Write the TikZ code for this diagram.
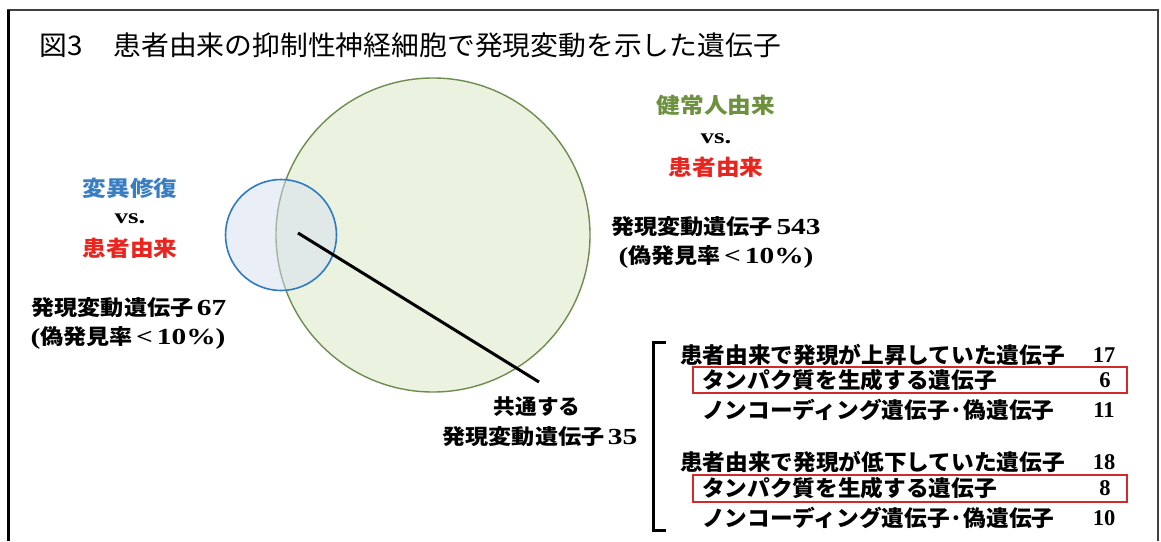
\documentclass[tikz,border=0pt]{standalone}
\usepackage{fontspec}
\newfontfamily\jp[FakeStretch=1.1]{Noto Sans CJK JP}
\newfontfamily\jr[FakeStretch=1.03]{Noto Sans CJK JP}
\newfontfamily\jt[FakeStretch=1.03]{Noto Sans CJK JP}
\newfontfamily\tm{Liberation Serif}
\newfontfamily\tmw[FakeStretch=1.28]{Liberation Serif}
\definecolor{gline}{HTML}{6E8C50}
\definecolor{gfill}{HTML}{EBF3E0}
\definecolor{bline}{HTML}{2F7BC0}
\definecolor{bfill}{HTML}{D6DEF0}
\definecolor{btext}{HTML}{3A7EC2}
\definecolor{rtext}{HTML}{E8261F}
\definecolor{gtext}{HTML}{6E9140}
\definecolor{rbox}{HTML}{D22A2A}
\tikzset{
  lab/.style={inner sep=0pt, font=\jp\bfseries\fontsize{21}{25}\selectfont, text=black},
  big/.style={inner sep=0pt, font=\jp\bfseries\fontsize{21.5}{26}\selectfont},
  vs/.style={inner sep=0pt, font=\tmw\bfseries\fontsize{21}{24}\selectfont},
  row/.style={inner sep=0pt, anchor=west, font=\jr\bfseries\fontsize{22}{26}\selectfont},
  num/.style={inner sep=0pt, font=\tm\bfseries\fontsize{22.5}{26}\selectfont},
  hbox/.style={draw=rbox, line width=1.6pt},
}
\newcommand{\tb}[1]{{\tmw\bfseries\fontsize{23}{26}\selectfont #1}}
\begin{document}
\begin{tikzpicture}[x=1pt,y=-1pt]
\useasboundingbox (0,0) rectangle (1161,541);
\fill[white] (0,0) rectangle (1161,541);
% frame
\draw[line width=2pt, black!75] (7,10) -- (1158,10) -- (1158,541);
\draw[line width=3pt, black] (8,10) -- (8,541);
% title
\node[inner sep=0pt, anchor=west, font=\jt\fontsize{27}{31}\selectfont] (title) at (39,45) {図3\hspace{1.15em}患者由来の抑制性神経細胞で発現変動を示した遺伝子};
% circles
\fill[gfill] (433,235) circle (157);
\draw[gline, line width=1.4pt] (433,235) circle (157);
\fill[bfill, fill opacity=0.5] (281,235) circle (55.5);
\draw[bline, line width=1.6pt] (281,235) circle (55.5);
% left labels
\node[big, text=btext] (mut) at (130,188) {変異修復};
\node[vs] (vs1) at (130,219) {vs.};
\node[big, text=rtext] (pat1) at (130,248) {患者由来};
\node[lab] (n67) at (129,308) {発現変動遺伝子\,\tb{67}};
\node[lab] (f67) at (128,338) {\tb{(}偽発見率\,\tb{<\,10\%)}};
% right labels
\node[big, text=gtext] (hlt) at (716,105) {健常人由来};
\node[vs] (vs2) at (716,139) {vs.};
\node[big, text=rtext] (pat2) at (716,167) {患者由来};
\node[lab] (n543) at (716,227) {発現変動遺伝子\,\tb{543}};
\node[lab] (f543) at (716,257) {\tb{(}偽発見率\,\tb{<\,10\%)}};
% common
\node[lab, font=\jr\bfseries\fontsize{21}{25}\selectfont] (com1) at (537,407) {共通する};
\node[lab] (com2) at (540,437) {発現変動遺伝子\,\tb{35}};
\coordinate (ovl) at (298,233);
\coordinate (cend) at (539,382);
\draw[line width=3pt, black] (ovl) -- (cend);
% bracket
\draw[line width=3pt, black] (666,342) -- (653,342) -- (653,530) -- (666,530);
% rows
\node[row] (r1) at (680,355) {患者由来で発現が上昇していた遺伝子};
\node[num] (v1) at (1104,355) {17};
\node[row] (r2) at (702,380) {タンパク質を生成する遺伝子};
\node[num] (v2) at (1105,380) {6};
\node[row] (r3) at (702,410) {ノンコーディング遺伝子·偽遺伝子};
\node[num] (v3) at (1104,410) {11};
\node[row] (r4) at (680,462) {患者由来で発現が低下していた遺伝子};
\node[num] (v4) at (1104,462) {18};
\node[row] (r5) at (702,488) {タンパク質を生成する遺伝子};
\node[num] (v5) at (1105,488) {8};
\node[row] (r6) at (702,518) {ノンコーディング遺伝子·偽遺伝子};
\node[num] (v6) at (1104,518) {10};
\draw[hbox] (693,367) rectangle (1127,393);
\draw[hbox] (693,475) rectangle (1127,502);
\end{tikzpicture}
\end{document}
